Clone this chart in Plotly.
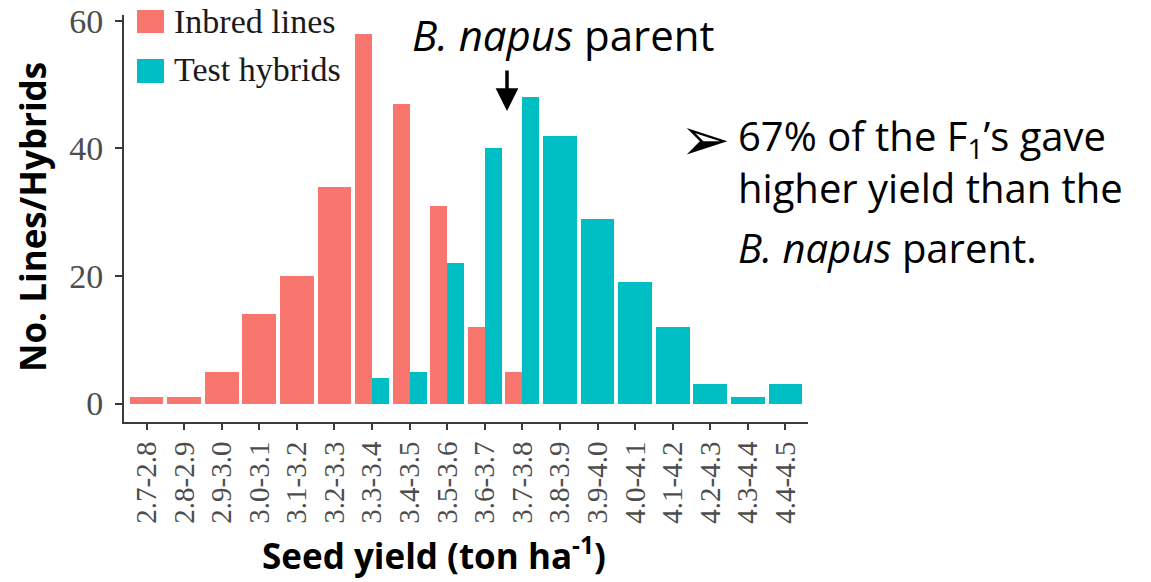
import plotly.graph_objects as go

categories = ["2.7-2.8", "2.8-2.9", "2.9-3.0", "3.0-3.1", "3.1-3.2", "3.2-3.3",
              "3.3-3.4", "3.4-3.5", "3.5-3.6", "3.6-3.7", "3.7-3.8", "3.8-3.9",
              "3.9-4.0", "4.0-4.1", "4.1-4.2", "4.2-4.3", "4.3-4.4", "4.4-4.5"]
inbred = [1, 1, 5, 14, 20, 34, 58, 47, 31, 12, 5, 0, 0, 0, 0, 0, 0, 0]
hybrids = [0, 0, 0, 0, 0, 0, 4, 5, 22, 40, 48, 42, 29, 19, 12, 3, 1, 3]
yticks = [0, 20, 40, 60]

series_names = ["Inbred lines", "Test hybrids"]
series_colors = ["#F8766D", "#00BFC4"]

# plot-area geometry (pixels) used to convert annotation positions to paper coords
L, R, T, B = 124, 808, 15, 422
W, H = 1151, 582


def px(x):
    return (x - L) / (R - L)


def py(y):
    return (B - y) / (B - T)


# ggplot-like dodge: bars share a slot only when both series are present
BW = 0.9
both = [a > 0 and b > 0 for a, b in zip(inbred, hybrids)]
in_off = [-BW / 2 for _ in categories]
in_w = [BW / 2 if d else BW for d in both]
hy_off = [0 if d else -BW / 2 for d in both]
hy_w = [BW / 2 if d else BW for d in both]

fig = go.Figure()
fig.add_trace(go.Bar(
    x=categories, y=[v if v > 0 else None for v in inbred],
    offset=in_off, width=in_w, name=series_names[0],
    marker=dict(color=series_colors[0], line=dict(width=0)), showlegend=False))
fig.add_trace(go.Bar(
    x=categories, y=[v if v > 0 else None for v in hybrids],
    offset=hy_off, width=hy_w, name=series_names[1],
    marker=dict(color=series_colors[1], line=dict(width=0)), showlegend=False))

axis_col = "#3a3a3a"
tick_col = "#4D4D4D"
serif = "Liberation Serif, Times New Roman, serif"
sans = "Open Sans, Noto Sans, sans-serif"

fig.update_layout(
    width=W, height=H,
    margin=dict(l=L, r=W - R, t=T, b=H - B, pad=0, autoexpand=False),
    paper_bgcolor="white", plot_bgcolor="white",
    barmode="overlay", bargap=0, showlegend=False,
    xaxis=dict(type="category", categoryorder="array", categoryarray=categories,
               range=[-0.6, 17.6], showgrid=False, zeroline=False, automargin=False,
               showline=True, linecolor=axis_col, linewidth=2,
               ticks="outside", ticklen=6, tickwidth=2, tickcolor=axis_col,
               tickangle=-90, tickfont=dict(family=serif, size=29, color=tick_col)),
    yaxis=dict(range=[-2.9, 60.9], tickvals=yticks, showgrid=False, zeroline=False,
               automargin=False,
               showline=True, linecolor=axis_col, linewidth=2,
               ticks="outside", ticklen=7, tickwidth=2, tickcolor=axis_col,
               ticklabelstandoff=5,
               tickfont=dict(family=serif, size=34, color=tick_col)),
)

# custom legend (large keys like ggplot)
legend_rows = [(10, 33, 22), (59, 83, 69)]
for (y0, y1, yc), name, col in zip(legend_rows, series_names, series_colors):
    fig.add_shape(type="rect", xref="paper", yref="paper",
                  x0=px(137), x1=px(164), y0=py(y1), y1=py(y0),
                  fillcolor=col, line=dict(width=0), layer="above")
    fig.add_annotation(xref="paper", yref="paper", x=px(172), y=py(yc),
                       xanchor="left", yanchor="middle", showarrow=False,
                       text=name, font=dict(family=serif, size=34, color="#1a1a1a"))

# B. napus parent label + arrow
fig.add_annotation(xref="paper", yref="paper", x=px(563), y=py(35),
                   xanchor="center", yanchor="middle", showarrow=False,
                   text="<i>B. napus</i> parent",
                   font=dict(family=sans, size=42, color="black"))
fig.add_annotation(xref="paper", yref="paper", x=px(507), y=py(111),
                   ax=0, ay=-42, text="", showarrow=True,
                   arrowhead=2, arrowsize=1.3, arrowwidth=3.5, arrowcolor="black")

# bullet text on the right
fig.add_annotation(xref="paper", yref="paper", x=px(678), y=py(139),
                   xanchor="left", yanchor="middle", showarrow=False,
                   text="\u27A2", font=dict(family="DejaVu Sans", size=60, color="black"))
fig.add_annotation(xref="paper", yref="paper", x=px(736), y=py(106),
                   xanchor="left", yanchor="top", showarrow=False, align="left",
                   text="67% of the F<sub>1</sub>\u2019s gave<br>higher yield than the",
                   font=dict(family=sans, size=40, color="black"))
fig.add_annotation(xref="paper", yref="paper", x=px(736), y=py(247),
                   xanchor="left", yanchor="middle", showarrow=False,
                   text="<i>B. napus</i> parent.",
                   font=dict(family=sans, size=40, color="black"))

# axis titles (placed as in the slide)
fig.add_annotation(xref="paper", yref="paper", x=px(434), y=py(581),
                   xanchor="center", yanchor="bottom", showarrow=False,
                   text="<b>Seed yield (ton ha<sup>-1</sup>)</b>",
                   font=dict(family=sans, size=35, color="black"))
fig.add_annotation(xref="paper", yref="paper", x=px(32), y=py(217),
                   xanchor="center", yanchor="middle", showarrow=False, textangle=-90,
                   text="<b>No. Lines/Hybrids</b>",
                   font=dict(family=sans, size=35, color="black"))

fig.write_html("out.html", config={"displayModeBar": False},
               post_script="document.body.style.margin='0';")
